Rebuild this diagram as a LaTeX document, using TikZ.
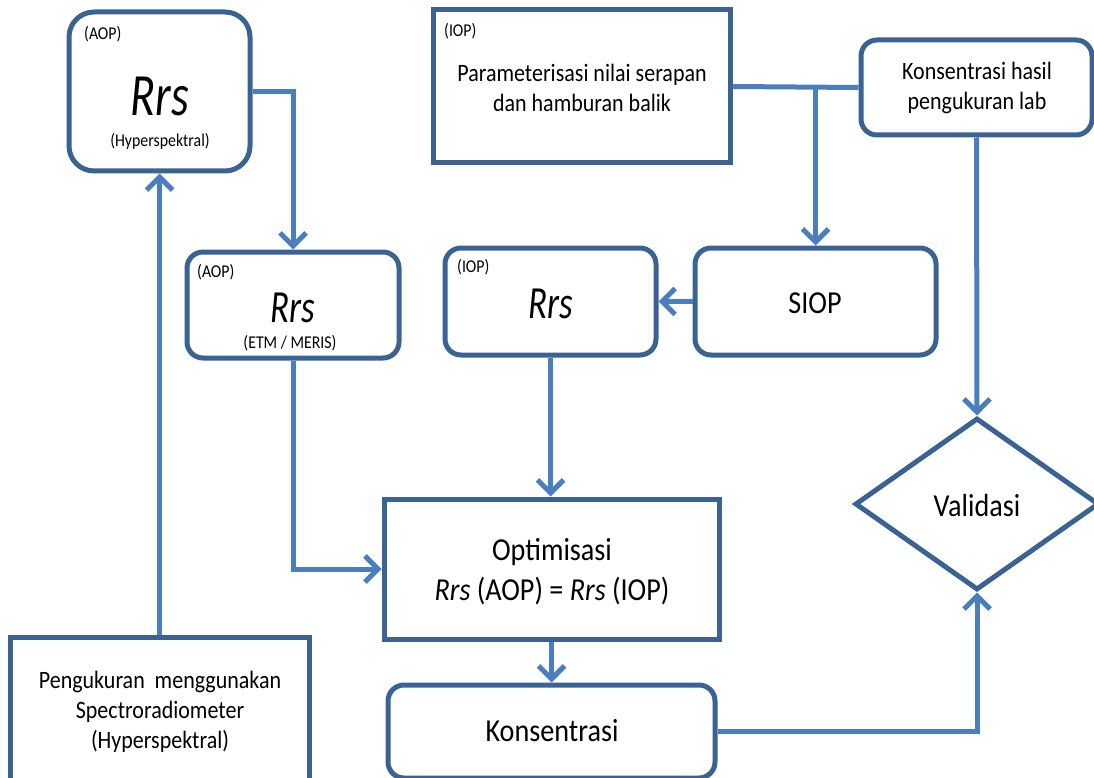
\documentclass[tikz,border=0pt]{standalone}
\usepackage{fontspec}
\setmainfont{Carlito}[FakeStretch=0.88]
\newfontfamily\rrsfont{Carlito}[FakeStretch=0.76]
\usetikzlibrary{arrows.meta,shapes.geometric}
\definecolor{bordc}{HTML}{3A6394}
\definecolor{connc}{HTML}{4A7EBE}
\tikzset{
 rbox/.style={draw=bordc,line width=5pt,fill=white,rounded corners=#1,inner sep=0pt},
 sbox/.style={draw=bordc,line width=5pt,fill=white,inner sep=0pt},
 conn/.style={draw=connc,line width=5pt,-{Straight Barb[length=13pt,width=26pt]}},
 plainline/.style={draw=connc,line width=5pt},
 small/.style={font=\fontsize{18}{20}\selectfont,inner sep=0pt},
 mid/.style={font=\fontsize{25}{30}\selectfont,align=center,inner sep=0pt},
 big/.style={font=\fontsize{32}{40}\selectfont,align=center,inner sep=0pt},
 rrsA/.style={font=\rrsfont\fontsize{60}{60}\selectfont\itshape,inner sep=0pt},
 rrsB/.style={font=\rrsfont\fontsize{46}{46}\selectfont\itshape,inner sep=0pt},
}
\begin{document}
\begin{tikzpicture}[x=1pt,y=-1pt]
\useasboundingbox (0,0) rectangle (1094,778);
\clip (0,0) rectangle (1094,778);
% boxes
\node[rbox=25pt,minimum width=181pt,minimum height=159pt] (A) at (159.5,91.5) {};
\node[small,anchor=west] (Alab) at (84,34) {(AOP)};
\node[rrsA] (Arrs) at (160,96) {Rrs};
\node[small] (Asub) at (160,141) {(Hyperspektral)};

\node[rbox=16pt,minimum width=212pt,minimum height=106pt] (B) at (293,305) {};
\node[small,anchor=west] (Blab) at (197,272) {(AOP)};
\node[rrsB] (Brrs) at (293,308) {Rrs};
\node[small] (Bsub) at (290,343) {(ETM / MERIS)};

\node[sbox,minimum width=297pt,minimum height=153pt] (C) at (581.5,86.5) {};
\node[small,anchor=west] (Clab) at (444,31) {(IOP)};
\node[mid] (Ctxt) at (582,88) {Parameterisasi nilai serapan\\dan hamburan balik};

\node[rbox=16pt,minimum width=231pt,minimum height=95pt] (D) at (976.5,87.5) {};
\node[mid] (Dtxt) at (977,88) {Konsentrasi hasil\\pengukuran lab};

\node[rbox=16pt,minimum width=211pt,minimum height=107pt] (E) at (550.5,301.5) {};
\node[small,anchor=west] (Elab) at (457,267) {(IOP)};
\node[rrsB] (Errs) at (551,304) {Rrs};

\node[rbox=16pt,minimum width=241pt,minimum height=107pt] (F) at (815.5,301.5) {};
\node[big] (Ftxt) at (815,303) {SIOP};

\node[sbox,minimum width=335pt,minimum height=140pt] (G) at (551.5,569) {};
\node[big] (Gtxt) at (552,572) {Optimisasi\\\textit{Rrs} (AOP) = \textit{Rrs} (IOP)};

\node[sbox,minimum width=299pt,minimum height=170pt] (H) at (159.5,722) {};
\node[mid] (Htxt) at (160,712) {Pengukuran\ \ menggunakan\\Spectroradiometer\\(Hyperspektral)};

\node[rbox=16pt,minimum width=327pt,minimum height=93pt] (I) at (551.5,731.5) {};
\node[big] (Itxt) at (552,731) {Konsentrasi};

\node[diamond,draw=bordc,line width=5pt,fill=white,inner sep=0pt,minimum width=244pt,minimum height=172pt,aspect=1.4] (V) at (977,504) {};
\node[big] (Vtxt) at (977,506) {Validasi};

% connectors
\draw[conn] (A.east) -| (B.north);
\draw[conn] (H.north) -- (A.south);
\draw[conn] (B.south) |- (G.west);
\draw[plainline] (C.east) -- (D.west);
\coordinate (J) at (815.5,87);
\draw[conn] (J) -- (F.north);
\draw[conn] (F.west) -- (E.east);
\draw[conn] (E.south) -- (E.south |- G.north);
\draw[conn] (G.south) -- (G.south |- I.north);
\draw[conn] (D.south) -- (V.north);
\draw[conn] (I.east) -| (V.south);
\end{tikzpicture}
\end{document}
